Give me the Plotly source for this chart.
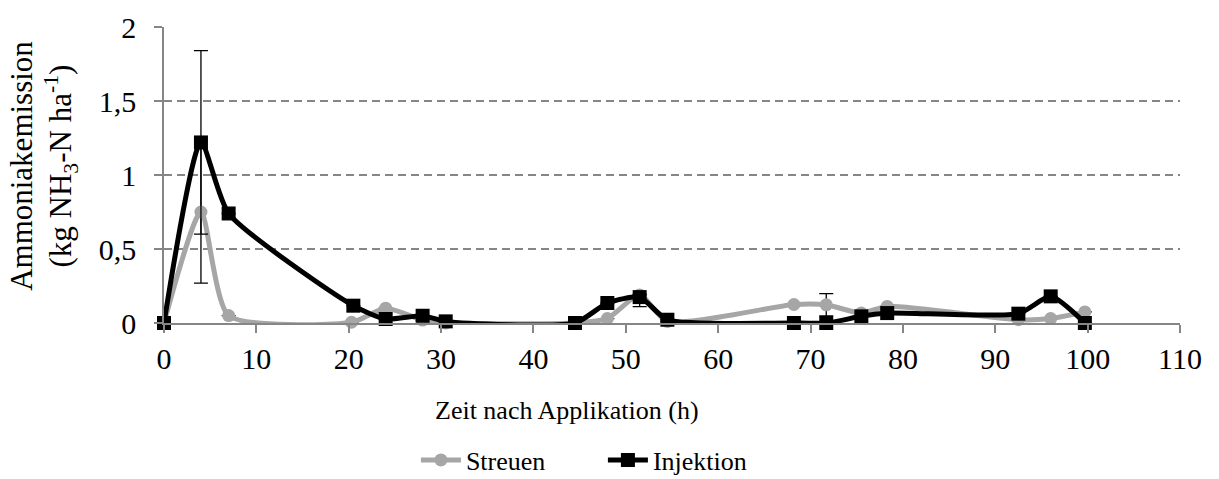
import plotly.graph_objects as go

# Zeitpunkte der Messungen (h nach Applikation)
zeit_streuen = [0, 4, 7, 20.3, 24, 28, 30.5, 44.5, 48, 51.5, 54.5, 68.2, 71.7, 75.5, 78.3, 92.5, 96, 99.7]
nh3_streuen = [0, 0.75, 0.05, 0.005, 0.10, 0.02, 0.0, 0.0, 0.03, 0.19, 0.01, 0.125, 0.123, 0.067, 0.112, 0.022, 0.03, 0.075]
fehler_streuen = [0, 0.48, 0, 0, 0, 0, 0, 0, 0, 0, 0, 0, 0.075, 0, 0, 0, 0, 0]

zeit_injektion = [0, 4, 7, 20.5, 24, 28, 30.5, 44.5, 48, 51.5, 54.5, 68.2, 71.7, 75.5, 78.3, 92.5, 96, 99.7]
nh3_injektion = [0, 1.22, 0.74, 0.117, 0.027, 0.049, 0.011, 0.0, 0.135, 0.175, 0.022, 0.0, 0.0, 0.045, 0.067, 0.063, 0.18, 0.0]
fehler_inj_plus = [0, 0.62, 0, 0, 0, 0, 0, 0, 0, 0.02, 0, 0, 0, 0, 0, 0, 0, 0]
fehler_inj_minus = [0, 0.62, 0, 0, 0, 0, 0, 0, 0, 0.065, 0, 0, 0, 0, 0, 0, 0, 0]

y_ticks = [0, 0.5, 1, 1.5, 2]
x_ticks = list(range(0, 111, 10))

FONT = "Liberation Serif, Times New Roman, Times, serif"
GRAU = "#a6a6a6"
ACHSE = "#868686"
FS_TICK = 30
FS_TITEL = 26

fig = go.Figure()

fig.add_trace(go.Scatter(
    x=zeit_streuen, y=nh3_streuen, name="Streuen",
    mode="lines+markers",
    line=dict(color=GRAU, width=5, shape="spline", smoothing=0.6),
    marker=dict(symbol="circle", size=13, color=GRAU),
    error_y=dict(type="data", array=fehler_streuen, visible=True,
                 color="black", thickness=1.3, width=7),
    cliponaxis=False,
))

fig.add_trace(go.Scatter(
    x=zeit_injektion, y=nh3_injektion, name="Injektion",
    mode="lines+markers",
    line=dict(color="black", width=5, shape="spline", smoothing=0.6),
    marker=dict(symbol="square", size=14, color="black"),
    error_y=dict(type="data", symmetric=False, array=fehler_inj_plus,
                 arrayminus=fehler_inj_minus, visible=True,
                 color="black", thickness=1.3, width=7),
    cliponaxis=False,
))

fig.update_layout(
    width=1219, height=479,
    margin=dict(l=164, r=39, t=27, b=156, autoexpand=False),
    paper_bgcolor="white", plot_bgcolor="white",
    separators=",.",
    font=dict(family=FONT, size=FS_TICK, color="black"),
    showlegend=True,
    legend=dict(orientation="h", x=0.432, xanchor="center", y=-0.463, yanchor="middle",
                font=dict(family=FONT, size=FS_TITEL), itemwidth=40,
                entrywidth=132, traceorder="normal"),
)

fig.update_xaxes(
    range=[0, 110], tickvals=x_ticks,
    showline=True, linecolor=ACHSE, linewidth=1.5,
    ticks="outside", ticklen=8, tickcolor=ACHSE, tickwidth=1.5,
    showgrid=False, zeroline=False,
    tickfont=dict(family=FONT, size=FS_TICK),
)

fig.update_yaxes(
    range=[0, 2], tickvals=y_ticks,
    showline=True, linecolor=ACHSE, linewidth=1.5,
    ticks="outside", ticklen=8, tickcolor=ACHSE, tickwidth=1.5,
    ticklabelstandoff=12,
    showgrid=True, gridcolor=ACHSE, griddash="8px,5px", gridwidth=1.5,
    zeroline=False,
    tickfont=dict(family=FONT, size=FS_TICK),
)

# Achsentitel als Annotationen
fig.add_annotation(text="Zeit nach Applikation (h)", showarrow=False,
                   xref="paper", yref="paper", x=0.397, y=-0.294,
                   xanchor="center", yanchor="middle", font=dict(family=FONT, size=FS_TITEL))
fig.add_annotation(text="Ammoniakemission", textangle=-90, showarrow=False,
                   xref="paper", yref="paper", x=-0.141, y=0.53,
                   xanchor="center", yanchor="middle", font=dict(family=FONT, size=31))
fig.add_annotation(text="(kg NH<sub>3</sub>-N ha<sup>-1</sup>)", textangle=-90, showarrow=False,
                   xref="paper", yref="paper", x=-0.101, y=0.53,
                   xanchor="center", yanchor="middle", font=dict(family=FONT, size=31))

fig.write_html("out.html")
